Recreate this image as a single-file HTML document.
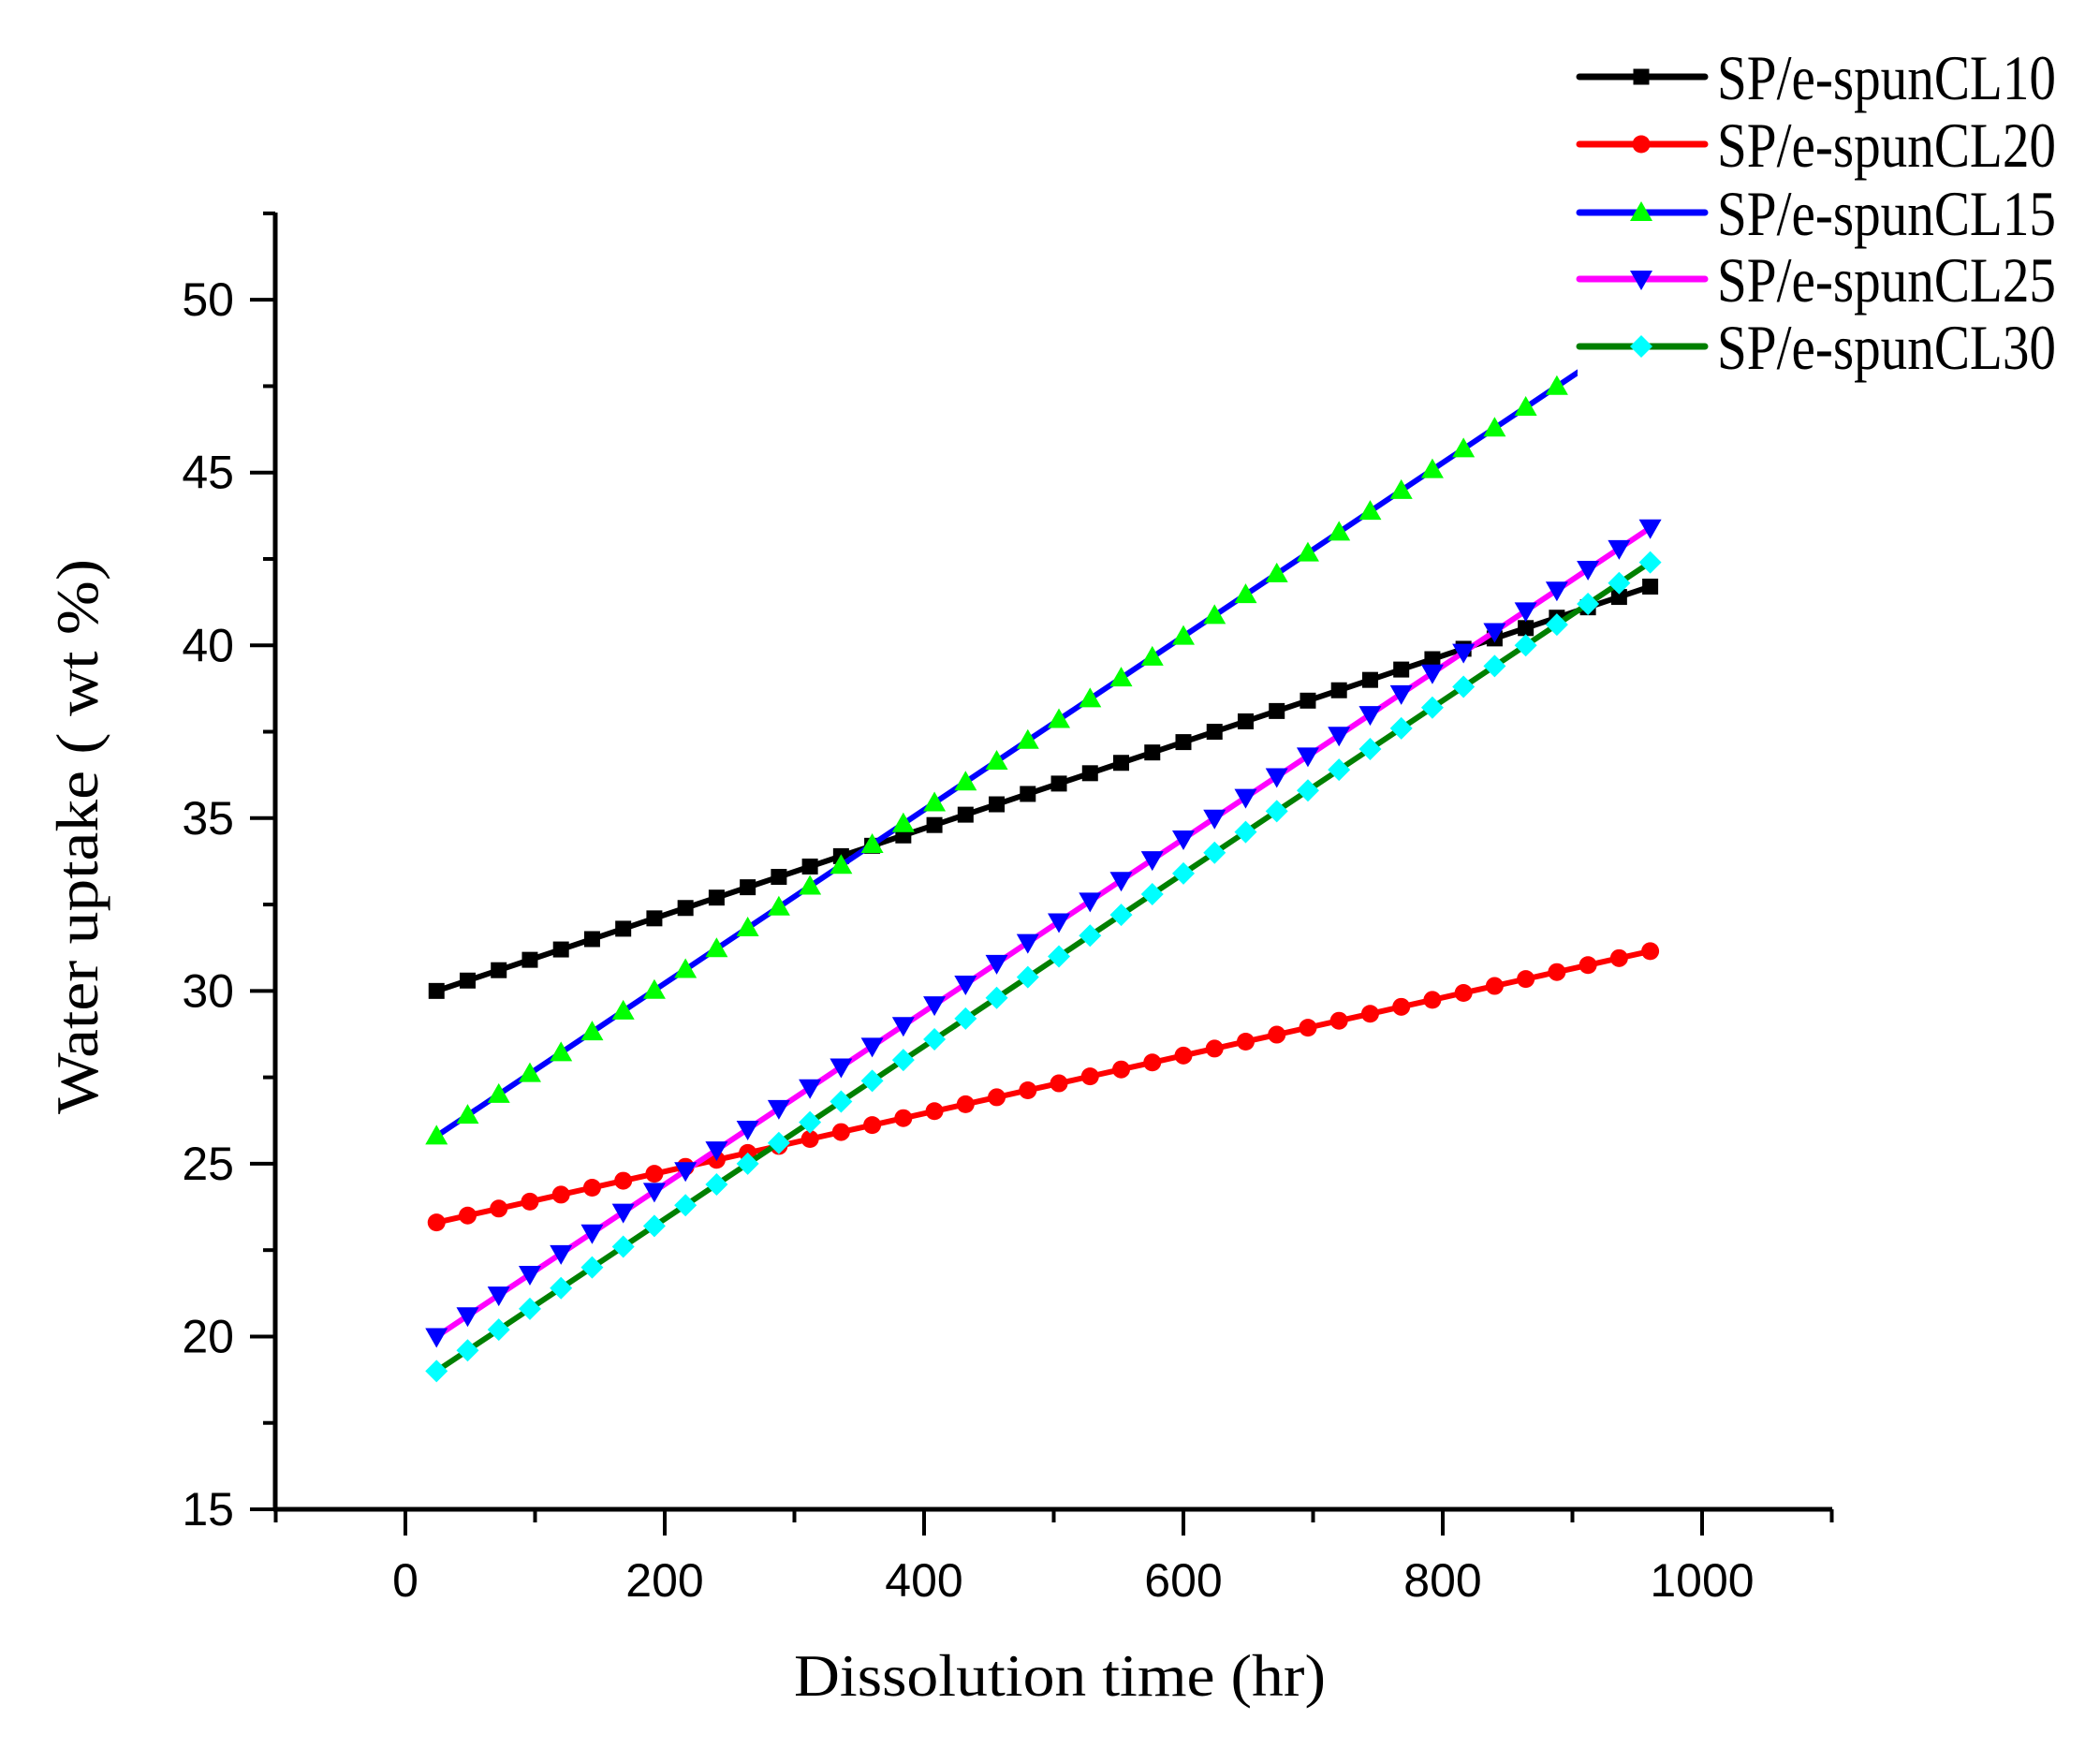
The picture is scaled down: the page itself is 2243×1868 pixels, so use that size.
<!DOCTYPE html>
<html><head><meta charset="utf-8"><style>html,body{margin:0;padding:0;background:#fff}svg{display:block}</style></head>
<body>
<svg id="s" width="2243" height="1868" viewBox="0 0 2243 1868" xmlns="http://www.w3.org/2000/svg">
<rect width="2243" height="1868" fill="#fff"/>
<g id="plot"></g>
<g id="axes"></g>
<g id="legend"></g>
</svg>
<script>
const NS="http://www.w3.org/2000/svg";
function el(p,t,a,txt){const e=document.createElementNS(NS,t);for(const k in a)e.setAttribute(k,a[k]);if(txt!==undefined)e.textContent=txt;p.appendChild(e);return e;}
const X=v=>433+v*1.385, Y=v=>1612-(v-15)*36.91;
const plot=document.getElementById('plot'),axes=document.getElementById('axes'),leg=document.getElementById('legend');
function marker(g,type,x,y,c){
 if(type=='sq')el(g,'rect',{x:x-8.5,y:y-8.5,width:17,height:17,fill:c});
 else if(type=='ci')el(g,'circle',{cx:x,cy:y,r:9.5,fill:c});
 else if(type=='up')el(g,'polygon',{points:`${x-12},${y+9} ${x+12},${y+9} ${x},${y-12}`,fill:c});
 else if(type=='dn')el(g,'polygon',{points:`${x-12},${y-9} ${x+12},${y-9} ${x},${y+12}`,fill:c});
 else if(type=='di')el(g,'polygon',{points:`${x},${y-12} ${x+12},${y} ${x},${y+12} ${x-12},${y}`,fill:c});
}
const series=[
 {a:30,b:41.7,lc:'#000',mc:'#000',m:'sq',name:'SP/e-spunCL10'},
 {a:23.3,b:31.15,lc:'#f00',mc:'#f00',m:'ci',name:'SP/e-spunCL20'},
 {a:25.8,b:49.3,lc:'#00f',mc:'#0f0',m:'up',name:'SP/e-spunCL15'},
 {a:20,b:43.4,lc:'#f0f',mc:'#00f',m:'dn',name:'SP/e-spunCL25'},
 {a:19,b:42.4,lc:'#008000',mc:'#0ff',m:'di',name:'SP/e-spunCL30'}];
for(const i of [0,1,2,3,4]){const s=series[i];let pts=[];
 for(let k=0;k<40;k++){const t=24+24*k;const v=s.a+(s.b-s.a)*(t-24)/936;pts.push([X(t),Y(v)]);}
 el(plot,'polyline',{points:pts.map(p=>p.join(',')).join(' '),fill:'none',stroke:s.lc,'stroke-width':6,'stroke-linejoin':'round'});
 for(const p of pts)marker(plot,s.m,p[0],p[1],s.mc);
}
el(axes,'line',{x1:294,y1:227,x2:294,y2:1614,stroke:'#000','stroke-width':5});
el(axes,'line',{x1:292,y1:1612,x2:1957,y2:1612,stroke:'#000','stroke-width':5});
for(let v=15;v<=52.5;v+=2.5){const y=Y(v);const maj=(v%5==0);
 el(axes,'line',{x1:maj?267:281,y1:y,x2:294,y2:y,stroke:'#000','stroke-width':4});
 if(maj)el(axes,'text',{x:250,y:y+17,'text-anchor':'end','font-family':'Liberation Sans, sans-serif','font-size':50},String(v));}
for(let v=-100;v<=1100;v+=100){const x=X(v);const maj=(v%200==0);
 el(axes,'line',{x1:x,y1:1612,x2:x,y2:maj?1640:1626,stroke:'#000','stroke-width':4});
 if(maj)el(axes,'text',{x:x,y:1705,'text-anchor':'middle','font-family':'Liberation Sans, sans-serif','font-size':50},String(v));}
el(axes,'text',{x:848,y:1811,'font-family':'Liberation Serif, serif','font-size':64,textLength:568,lengthAdjust:'spacingAndGlyphs'},'Dissolution time (hr)');
el(axes,'text',{x:0,y:0,transform:'translate(104,1190) rotate(-90)','font-family':'Liberation Serif, serif','font-size':64,textLength:593,lengthAdjust:'spacingAndGlyphs'},'Water uptake ( wt %)');
el(leg,'rect',{x:1685,y:40,width:558,height:375,fill:'#fff'});
const ly=[82,154,227,298,370];
for(let i=0;i<5;i++){const s=series[i];const y=ly[i];
 el(leg,'line',{x1:1687,y1:y,x2:1821,y2:y,stroke:s.lc,'stroke-width':7,'stroke-linecap':'round'});
 marker(leg,s.m,1753,y,s.mc);
 el(leg,'text',{x:1834,y:y+24,'font-family':'Liberation Serif, serif','font-size':68,textLength:362,lengthAdjust:'spacingAndGlyphs'},s.name);
}
</script>
</body></html>
